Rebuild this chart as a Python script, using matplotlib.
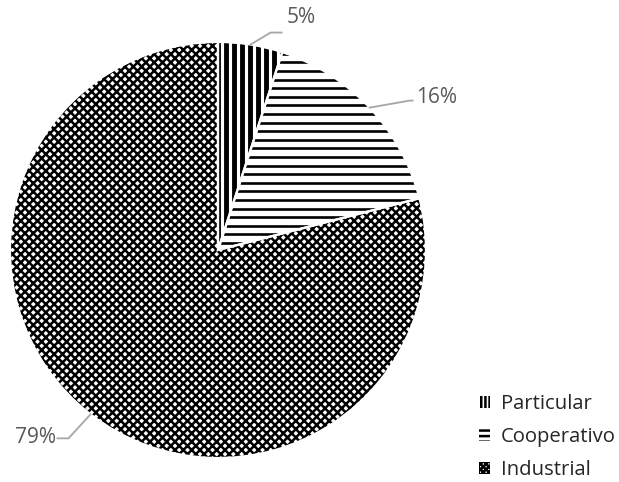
import numpy as np
import matplotlib
matplotlib.use("Agg")
from matplotlib import pyplot as plt
from matplotlib.patches import Patch

categories = ["Particular", "Cooperativo", "Industrial"]
shares = [5, 16, 79]
legend_hatches = ["||||", "---", "xxxxxx"]

plt.rcParams["font.family"] = ["Open Sans", "DejaVu Sans"]
plt.rcParams["hatch.linewidth"] = 1.8
plt.rcParams["hatch.color"] = "black"

W, H = 619, 482
fig = plt.figure(figsize=(W / 100, H / 100), dpi=100)
cx, cy, r = 218, 250, 208
ax = fig.add_axes([(cx - r) / W, (H - cy - r) / H, 2 * r / W, 2 * r / H])

wedges, _ = ax.pie(shares, startangle=90, counterclock=False, radius=1,
                   colors=["white"] * 3, wedgeprops=dict(linewidth=0, edgecolor="black"))
ax.set_xlim(-1, 1)
ax.set_ylim(-1, 1)
ax.set_aspect("equal")
ax.axis("off")

# fill patterns: thick vertical bars, thin horizontal lines, dense cross-hatch
px_unit = 1 / r
for x in np.arange(-1, 1, 8 * px_unit):
    ln, = ax.plot([x, x], [-1, 1], color="black", lw=3.5, solid_capstyle="butt", zorder=2)
    ln.set_clip_path(wedges[0])
for y in np.arange(-1, 1, 8.6 * px_unit):
    ln, = ax.plot([-1, 1], [y, y], color="black", lw=1.9, solid_capstyle="butt", zorder=2)
    ln.set_clip_path(wedges[1])
wedges[2].set_hatch("xxxx")

# white separators on top
ax.pie(shares, startangle=90, counterclock=False, radius=1,
       wedgeprops=dict(fill=False, edgecolor="white", linewidth=1.6, zorder=3))
ax.set_xlim(-1, 1)
ax.set_ylim(-1, 1)

# label leader lines: (elbow, end, text anchor) in pixels from the edge point
leaders = [
    ((20, 12), (31, 12), (36, 27), "left"),
    ((40, 7), (43, 7), (46, 10), "left"),
    ((-22, -24), (-33, -24), (-35, -23), "right"),
]
cum = 0
for val, (elb, end, toff, ha) in zip(shares, leaders):
    mid = np.deg2rad(90 - (cum + val / 2) * 3.6)
    cum += val
    px = cx + r * np.cos(mid)
    py = cy - r * np.sin(mid)
    xs = [px, px + elb[0], px + end[0]]
    ys = [py, py - elb[1], py - end[1]]
    fig.add_artist(plt.Line2D([x / W for x in xs], [1 - y / H for y in ys],
                              color="#a6a6a6", lw=1.3))
    fig.text((px + toff[0]) / W, 1 - (py - toff[1]) / H, f"{val}%",
             ha=ha, va="center", fontsize=15, color="#595959")

handles = [Patch(facecolor="white", edgecolor="black", linewidth=0, hatch=h, label=c)
           for h, c in zip(legend_hatches, categories)]
leg = fig.legend(handles=handles, loc="lower right", bbox_to_anchor=(1.024, -0.034),
                 frameon=False, fontsize=14.6, handlelength=0.5, handleheight=0.6,
                 handletextpad=0.55, labelspacing=0.64, labelcolor="#262626")

fig.savefig("out.png", dpi=100)
